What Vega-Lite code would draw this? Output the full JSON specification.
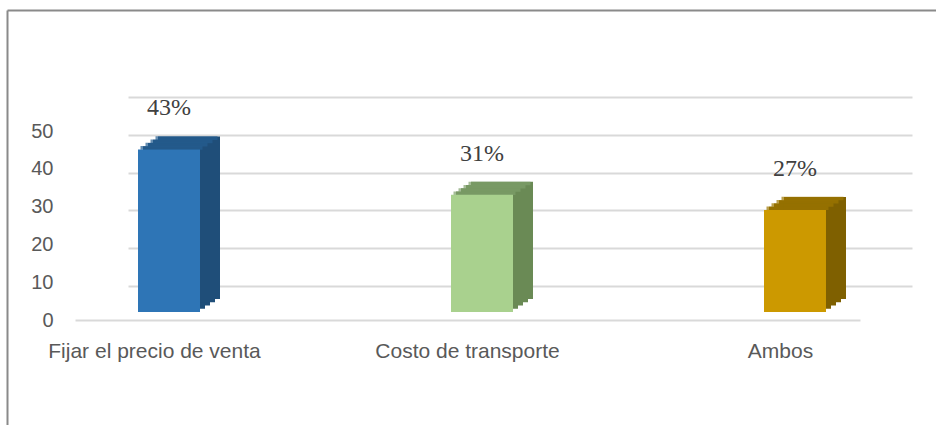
{
  "$schema": "https://vega.github.io/schema/vega-lite/v6.json",
  "width": 929,
  "height": 415,
  "autosize": {"type": "none"},
  "padding": {"left": 7, "top": 10, "right": 0, "bottom": 0},
  "background": "white",
  "config": {"view": {"stroke": null}, "font": "Liberation Sans"},
  "data": {"values": [
    {"categoria": "Fijar el precio de venta", "porcentaje": 43, "etiqueta": "43%"},
    {"categoria": "Costo de transporte", "porcentaje": 31, "etiqueta": "31%"},
    {"categoria": "Ambos", "porcentaje": 27, "etiqueta": "27%"}
  ]},
  "layer": [
    {
      "mark": {"type": "point", "opacity": 0},
      "encoding": {
        "x": {"field": "porcentaje", "type": "quantitative",
          "axis": {"orient": "top", "domain": true, "domainColor": "#8A8A8A", "domainWidth": 2, "labels": false, "ticks": false, "grid": false, "title": null}},
        "y": {"field": "porcentaje", "type": "quantitative",
          "axis": {"orient": "left", "domain": true, "domainColor": "#8A8A8A", "domainWidth": 2, "labels": false, "ticks": false, "grid": false, "title": null}}
      }
    },
    {
      "mark": {"type": "point", "opacity": 0},
      "encoding": {
        "x": {"field": "categoria", "type": "nominal", "sort": null,
          "scale": {"range": [121, 905]}, "axis": null},
        "y": {"field": "porcentaje", "type": "quantitative",
          "scale": {"domain": [0, 50], "nice": false, "range": [276, 87]},
          "axis": {"orient": "left", "values": [0, 10, 20, 30, 40, 50], "grid": true, "labels": false, "ticks": false, "domain": false, "title": null, "gridColor": "#D9D9D9", "gridWidth": 2}}
      }
    },
    {
      "encoding": {
        "x": {
          "field": "categoria", "type": "nominal", "sort": null,
          "scale": {"range": [68, 853], "paddingInner": 0.492, "paddingOuter": 0},
          "axis": {"orient": "bottom", "offset": -105, "title": null, "labelAngle": 0, "labelPadding": 20, "labelLimit": 0, "ticks": false, "domain": false, "grid": false, "labelFontSize": 21, "labelColor": "#595959", "labelFont": "Liberation Sans"}
        },
        "y": {"field": "porcentaje", "type": "quantitative",
          "scale": {"domain": [0, 50], "nice": false, "range": [310, 121]},
          "axis": {"orient": "left", "offset": -68, "values": [0, 10, 20, 30, 40, 50], "title": null, "ticks": false, "domain": false, "labelPadding": 22, "labelFontSize": 20, "labelColor": "#595959", "labelFont": "Liberation Sans", "grid": true, "gridColor": "#D9D9D9", "gridWidth": 2, "gridOpacity": {"condition": {"test": "datum.value === 0", "value": 1}, "value": 0}}}
      },
      "layer": [
        {
          "encoding": {"color": {"field": "categoria", "type": "nominal", "legend": null,
            "scale": {"domain": ["Fijar el precio de venta", "Costo de transporte", "Ambos"], "range": ["#1F4E79", "#6A8A55", "#7F6000"]}}},
          "layer": [
            {"mark": {"type": "bar", "width": 62, "xOffset": 19.5, "yOffset": -11.25}},
            {"mark": {"type": "bar", "width": 62, "xOffset": 24.5, "yOffset": -14.5}},
            {"mark": {"type": "bar", "width": 62, "xOffset": 29.5, "yOffset": -17.75}},
            {"mark": {"type": "bar", "width": 62, "xOffset": 34.5, "yOffset": -21}}
          ]
        },
        {
          "encoding": {"color": {"field": "categoria", "type": "nominal", "legend": null,
            "scale": {"domain": ["Fijar el precio de venta", "Costo de transporte", "Ambos"], "range": ["#255E91", "#7F9F6B", "#9E7700"]}}},
          "layer": [
            {"mark": {"type": "tick", "thickness": 3.6, "size": 62, "xOffset": 17, "yOffset": -9.625}},
            {"mark": {"type": "tick", "thickness": 3.6, "size": 62, "xOffset": 22, "yOffset": -12.875}},
            {"mark": {"type": "tick", "thickness": 3.6, "size": 62, "xOffset": 27, "yOffset": -16.125}},
            {"mark": {"type": "tick", "thickness": 3.6, "size": 62, "xOffset": 32, "yOffset": -19.375}}
          ]
        },
        {
          "mark": {"type": "bar", "width": 62, "xOffset": 14.5, "yOffset": -8},
          "encoding": {"color": {"field": "categoria", "type": "nominal", "legend": null,
            "scale": {"domain": ["Fijar el precio de venta", "Costo de transporte", "Ambos"], "range": ["#2E75B6", "#A9D18E", "#CC9900"]}}}
        },
        {
          "mark": {"type": "text", "xOffset": 14.5, "yOffset": -49, "baseline": "middle", "font": "Liberation Serif", "fontSize": 24, "color": "#404040"},
          "encoding": {"text": {"field": "etiqueta"}}
        }
      ],
      "resolve": {"scale": {"color": "independent"}}
    }
  ],
  "resolve": {"scale": {"x": "independent", "y": "independent"}}
}
